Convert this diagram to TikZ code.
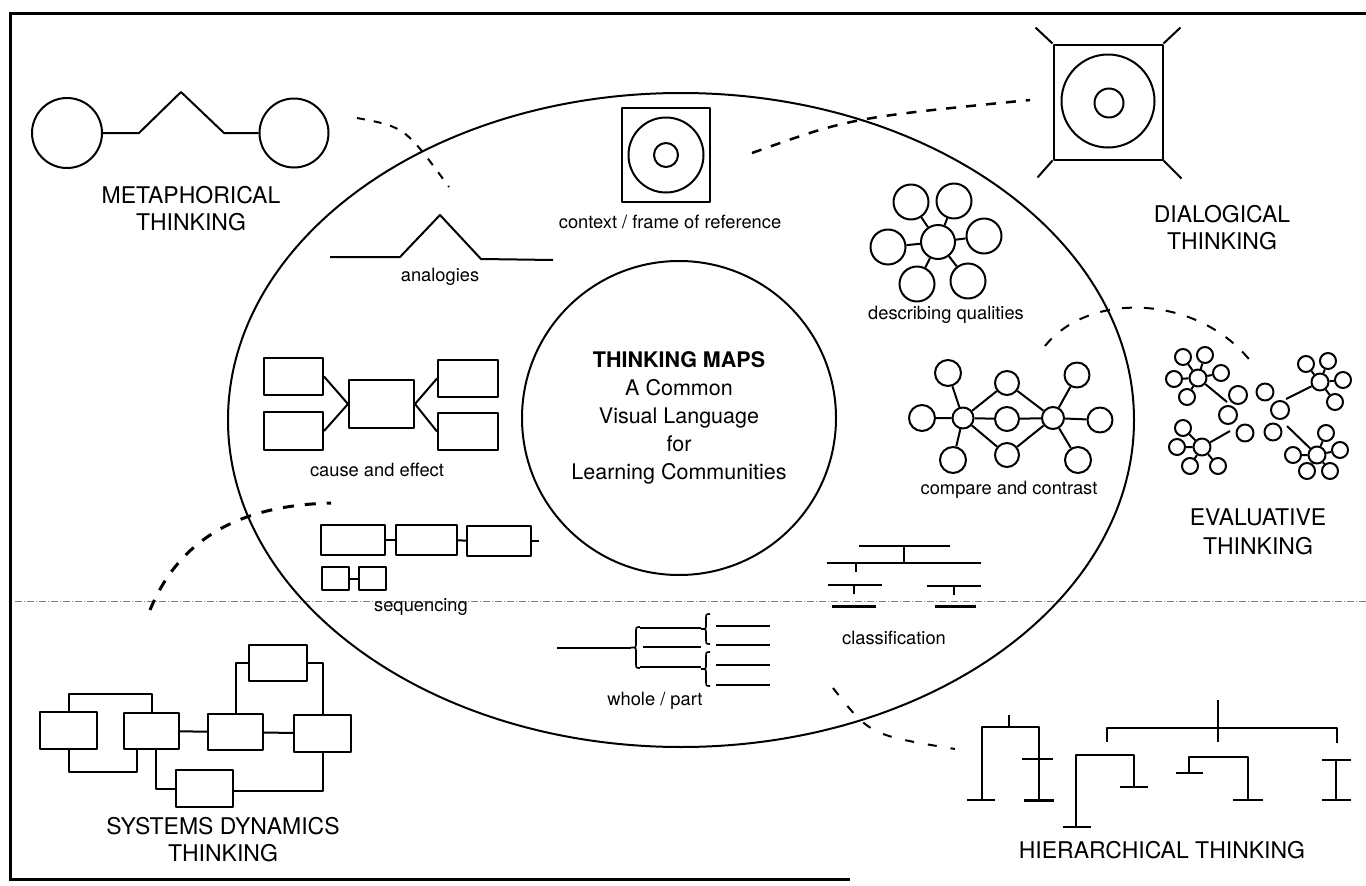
\documentclass[tikz,border=0pt]{standalone}
\usepackage{fontspec}
\setmainfont{TeX Gyre Heros}
\usetikzlibrary{shapes.geometric}
\newcommand{\partbrace}[3]{%
	\draw[line width=1.6pt] (#1+9,#2) .. controls (#1+5,#2) .. (#1+5,#2+5) -- (#1+5,{(#2+#3)/2-4}) .. controls (#1+5,{(#2+#3)/2}) .. (#1,{(#2+#3)/2}) .. controls (#1+5,{(#2+#3)/2}) .. (#1+5,{(#2+#3)/2+4}) -- (#1+5,#3-5) .. controls (#1+5,#3) .. (#1+9,#3);}

\begin{document}
\begin{tikzpicture}[x=1pt, y=-1pt,
		ink/.style={line width=2pt, line join=round},
		bub/.style={draw, circle, ink, inner sep=0pt},
		bx/.style={draw, rectangle, ink, inner sep=0pt},
		thinklbl/.style={font=\fontsize{23}{27}\selectfont, align=center},
		lbl/.style={font=\fontsize{18.3}{22}\selectfont},
		dashlink/.style={line width=2.5pt, dash pattern=on 10pt off 10pt},
		fold/.style={gray, line width=0.8pt, dash pattern=on 7pt off 2pt on 1pt off 2pt}]
		
		\useasboundingbox (0,0) rectangle (1366,886);
		
		\draw[line width=3pt] (1366,13) -- (10,13) -- (10,879) -- (850,879);
		\draw[fold] (15,601) -- (1366,601);
		
		\node[draw, ellipse, ink, minimum width=906pt, minimum height=654pt] (field) at (681,420) {};
		\node[draw, circle, ink, minimum size=314pt, align=center, font=\fontsize{21.5}{28}\selectfont] (core) at (679,418) {\textbf{THINKING MAPS}\\A Common\\Visual Language\\for\\Learning Communities};
		
		\node[bub, minimum size=70pt] (mt1) at (67,133) {};
		\node[bub, minimum size=69pt] (mt2) at (294,133) {};
		\draw[ink] (mt1) -- (139,133) -- (181,92) -- (224,133) -- (mt2);
		\node[thinklbl] (mtlbl) at (191,209) {METAPHORICAL\\THINKING};
		
		\draw[ink] (330,257) -- (400,257) -- (440,215) -- (481,259) -- (553,260);
		\node[lbl] (anlbl) at (440,277) {analogies};
		
		\node[bx, minimum width=88pt, minimum height=94pt] (ctx) at (666,155) {};
		\node[bub, minimum size=75pt] (ctxo) at (666,155) {};
		\node[bub, minimum size=24pt] (ctxi) at (666,155) {};
		\node[lbl] (ctxlbl) at (670,222) {context / frame of reference};
		
		\node[bx, minimum width=109pt, minimum height=115pt] (dlg) at (1108,102) {};
		\node[bub, minimum size=93pt] (dlgo) at (1108,101) {};
		\node[bub, minimum size=29pt] (dlgi) at (1109,103) {};
		\draw[ink] (dlg.north west) -- ++(-17,-16);
		\draw[ink] (dlg.north east) -- ++(17,-16);
		\draw[ink] (dlg.south west) -- ++(-15,17);
		\draw[ink] (dlg.south east) -- ++(18,18);
		\node[thinklbl] (dlglbl) at (1222,228) {DIALOGICAL\\THINKING};
		
		\coordinate (lkmt1) at (357,118);
		\coordinate (lkmt2) at (449,187);
		\draw[dashlink, line width=2pt, dash pattern=on 8pt off 9pt] (lkmt1) .. controls (405,127) .. (lkmt2);
		\coordinate (lkdl1) at (752,153);
		\coordinate (lkdl2) at (1030,100);
		\draw[dashlink] (lkdl1) .. controls (850,118) .. (lkdl2);
		\coordinate (lkev1) at (1045,346);
		\coordinate (lkev2) at (1252,363);
		\draw[dashlink, line width=2pt, dash pattern=on 10pt off 12pt] (lkev1) .. controls (1090,290) and (1200,295) .. (lkev2);
		\coordinate (lksd1) at (150,610);
		\coordinate (lksd2) at (331,503);
		\draw[dashlink, line width=3pt, dash pattern=on 11pt off 11pt] (lksd1) .. controls (185,525) and (260,505) .. (lksd2);
		\coordinate (lkhi1) at (833,688);
		\coordinate (lkhi2) at (955,749);
		\draw[dashlink, line width=2pt, dash pattern=on 9pt off 14pt] (lkhi1) .. controls (870,735) .. (lkhi2);
		
		\node[bub, minimum size=34pt] (dq) at (938,242) {};
		\node[bub, minimum size=35pt] (dq1) at (911,202) {};
		\node[bub, minimum size=35pt] (dq2) at (954,201) {};
		\node[bub, minimum size=35pt] (dq3) at (984,236) {};
		\node[bub, minimum size=35pt] (dq4) at (888,247) {};
		\node[bub, minimum size=35pt] (dq5) at (917,284) {};
		\node[bub, minimum size=35pt] (dq6) at (968,281) {};
		\draw[ink] (dq) -- (dq1) (dq) -- (dq2) (dq) -- (dq3) (dq) -- (dq4) (dq) -- (dq5) (dq) -- (dq6);
		\node[lbl] (dqlbl) at (946,315) {describing qualities};
		
		\node[bub, minimum size=21pt] (ccL) at (963,418) {};
		\node[bub, minimum size=22pt] (ccR) at (1053,418) {};
		\node[bub, minimum size=24pt] (ccM) at (1007,419) {};
		\node[bub, minimum size=24pt] (ccT) at (1007,383) {};
		\node[bub, minimum size=24pt] (ccB) at (1007,455) {};
		\node[bub, minimum size=26pt] (ccW) at (922,418) {};
		\node[bub, minimum size=25pt] (ccE) at (1100,420) {};
		\node[bub, minimum size=26pt] (ccTL) at (948,373) {};
		\node[bub, minimum size=25pt] (ccTR) at (1077,375) {};
		\node[bub, minimum size=26pt] (ccBL) at (953,460) {};
		\node[bub, minimum size=26pt] (ccBR) at (1078,460) {};
		\draw[ink] (ccL) -- (ccW) (ccL) -- (ccTL) (ccL) -- (ccBL) (ccL) -- (ccT) (ccL) -- (ccM) (ccL) -- (ccB);
		\draw[ink] (ccR) -- (ccE) (ccR) -- (ccTR) (ccR) -- (ccBR) (ccR) -- (ccT) (ccR) -- (ccM) (ccR) -- (ccB);
		\node[lbl] (cclbl) at (1009,490) {compare and contrast};
		
		\node[bub, minimum size=17pt] (evA) at (1198,378) {};
		\node[bub, minimum size=16pt] (evA1) at (1183,357) {};
		\node[bub, minimum size=16pt] (evA2) at (1205,355) {};
		\node[bub, minimum size=16pt] (evA3) at (1174,379) {};
		\node[bub, minimum size=16pt] (evA4) at (1221,373) {};
		\node[bub, minimum size=16pt] (evA5) at (1187,397) {};
		\node[bub, minimum size=17pt] (evB) at (1320,382) {};
		\node[bub, minimum size=16pt] (evB1) at (1306,364) {};
		\node[bub, minimum size=16pt] (evB2) at (1328,361) {};
		\node[bub, minimum size=16pt] (evB3) at (1343,380) {};
		\node[bub, minimum size=16pt] (evB4) at (1335,402) {};
		\node[bub, minimum size=17pt] (evC) at (1202,447) {};
		\node[bub, minimum size=16pt] (evC1) at (1183,428) {};
		\node[bub, minimum size=16pt] (evC2) at (1177,447) {};
		\node[bub, minimum size=16pt] (evC3) at (1190,466) {};
		\node[bub, minimum size=16pt] (evC4) at (1218,466) {};
		\node[bub, minimum size=17pt] (evD) at (1317,455) {};
		\node[bub, minimum size=16pt] (evD1) at (1326,433) {};
		\node[bub, minimum size=16pt] (evD2) at (1340,450) {};
		\node[bub, minimum size=16pt] (evD3) at (1293,455) {};
		\node[bub, minimum size=16pt] (evD4) at (1307,471) {};
		\node[bub, minimum size=16pt] (evD5) at (1330,471) {};
		\node[bub, minimum size=18pt] (evP1) at (1238,395) {};
		\node[bub, minimum size=18pt] (evP2) at (1228,415) {};
		\node[bub, minimum size=17pt] (evP3) at (1245,433) {};
		\node[bub, minimum size=17pt] (evQ1) at (1265,392) {};
		\node[bub, minimum size=18pt] (evQ2) at (1280,410) {};
		\node[bub, minimum size=17pt] (evQ3) at (1273,432) {};
		\draw[ink] (evA) -- (evA1) (evA) -- (evA2) (evA) -- (evA3) (evA) -- (evA4) (evA) -- (evA5);
		\draw[ink] (evB) -- (evB1) (evB) -- (evB2) (evB) -- (evB3) (evB) -- (evB4);
		\draw[ink] (evC) -- (evC1) (evC) -- (evC2) (evC) -- (evC3) (evC) -- (evC4);
		\draw[ink] (evD) -- (evD1) (evD) -- (evD2) (evD) -- (evD3) (evD) -- (evD4) (evD) -- (evD5);
		\coordinate (evAx) at (1227,402);
		\coordinate (evBx) at (1286,399);
		\coordinate (evCx) at (1230,431);
		\coordinate (evDx) at (1287,426);
		\draw[ink] (evA) -- (evAx) (evB) -- (evBx) (evC) -- (evCx) (evD) -- (evDx);
		\node[thinklbl, font=\fontsize{23}{29}\selectfont] (evlbl) at (1258,532) {EVALUATIVE\\THINKING};
		
		\node[bx, minimum width=59pt, minimum height=37pt] (ceL1) at (293.5,376.5) {};
		\node[bx, minimum width=59pt, minimum height=38pt] (ceL2) at (293.5,431) {};
		\node[bx, minimum width=65pt, minimum height=48pt] (ceM) at (381.5,404) {};
		\node[bx, minimum width=60pt, minimum height=37pt] (ceR1) at (468,378.5) {};
		\node[bx, minimum width=60pt, minimum height=37pt] (ceR2) at (468,431.5) {};
		\draw[ink] (ceL1.east) -- (ceM.west) -- (ceL2.east);
		\draw[ink] (ceR1.west) -- (ceM.east) -- (ceR2.west);
		\node[lbl] (celbl) at (377,470) {cause and effect};
		
		\node[bx, minimum width=64pt, minimum height=30pt] (sq1) at (353,540) {};
		\node[bx, minimum width=61pt, minimum height=30pt] (sq2) at (426.5,540) {};
		\node[bx, minimum width=64pt, minimum height=30pt] (sq3) at (499,541) {};
		\node[bx, minimum width=27pt, minimum height=23pt] (sq4) at (335.5,578.5) {};
		\node[bx, minimum width=27pt, minimum height=23pt] (sq5) at (372.5,578.5) {};
		\draw[ink] (sq1) -- (sq2);
		\draw[ink] (sq2) -- (sq3);
		\draw[ink] (sq3.east) -- ++(7,0);
		\draw[ink] (sq4) -- (sq5);
		\node[lbl] (sqlbl) at (421,607) {sequencing};
		
		\draw[ink] (557,648) -- (631,648);
		\partbrace{631}{627}{668}
		\draw[ink] (640,628) -- (701,628) (643,647) -- (701,647) (640,667) -- (701,667);
		\partbrace{701}{614}{644}
		\partbrace{701}{652}{686}
		\draw[ink] (716,626) -- (770,626) (716,645) -- (770,645) (716,665) -- (770,665) (716,685) -- (770,685);
		\node[lbl] (wplbl) at (655,701) {whole / part};
		
		\draw[ink] (859,546) -- (950,546) (904,546) -- (904,562);
		\draw[ink] (827,563) -- (981,563) (856,563) -- (856,572);
		\draw[ink] (828,585) -- (882,585) (854,585) -- (854,594);
		\draw[ink] (927,586) -- (981,586) (954,586) -- (954,595);
		\draw[line width=3pt] (832,606) -- (876,606) (935,606) -- (976,606);
		\node[lbl] (cllbl) at (894,638) {classification};
		
		\node[bx, minimum width=57pt, minimum height=37pt] (sdA) at (68.5,730.5) {};
		\node[bx, minimum width=55pt, minimum height=36pt] (sdB) at (151.5,731) {};
		\node[bx, minimum width=55pt, minimum height=36pt] (sdC) at (235.5,732) {};
		\node[bx, minimum width=57pt, minimum height=37pt] (sdD) at (322.5,733.5) {};
		\node[bx, minimum width=58pt, minimum height=36pt] (sdE) at (278,663) {};
		\node[bx, minimum width=57pt, minimum height=37pt] (sdF) at (204.5,788.5) {};
		\draw[ink] (sdA.north) -- ++(0,-17) -| (sdB.north);
		\draw[ink] (sdA.south) -- ++(0,22) -| ([xshift=-15pt]sdB.south);
		\draw[ink] (sdB) -- (sdC);
		\draw[ink] (sdC) -- (sdD);
		\draw[ink] (sdC.north) |- (sdE.west);
		\draw[ink] (sdE.east) -| (sdD.north);
		\draw[ink] ([xshift=4.5pt]sdB.south) |- (sdF.west);
		\draw[ink] (sdF.east) ++(0,2.5) -| (sdD.south);
		\node[thinklbl] (sdlbl) at (223,840) {SYSTEMS DYNAMICS\\THINKING};
		
		\draw[ink] (1009,715) -- (1009,727) (982,800) -- (982,727) -- (1039,727) -- (1039,800);
		\draw[ink] (967,800) -- (995,800) (1022,759) -- (1053,759);
		\draw[line width=3pt] (1024,800) -- (1054,800);
		\draw[ink] (1218,700) -- (1218,742) (1107,742) -- (1107,728) -- (1337,728) -- (1337,743);
		\draw[ink] (1063,827) -- (1091,827) (1076,827) -- (1076,755) -- (1134,755) -- (1134,787) (1120,787) -- (1148,787);
		\draw[ink] (1176,773) -- (1203,773) (1189,773) -- (1189,757) -- (1248,757) -- (1248,800) (1233,800) -- (1263,800);
		\draw[ink] (1322,760) -- (1351,760) (1336,760) -- (1336,800) (1322,800) -- (1351,800);
		\node[thinklbl] (hilbl) at (1162,850) {HIERARCHICAL THINKING};
		
		\end{tikzpicture}
\end{document}
